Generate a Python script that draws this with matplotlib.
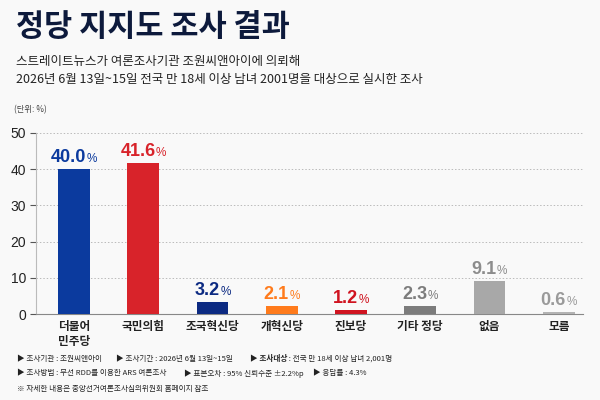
import matplotlib.pyplot as plt
import numpy as np

plt.rcParams['font.family'] = ['Noto Sans CJK KR', 'DejaVu Sans']

parties = ['더불어\n민주당', '국민의힘', '조국혁신당', '개혁신당', '진보당', '기타 정당', '없음', '모름']
support = [40.0, 41.6, 3.2, 2.1, 1.2, 2.3, 9.1, 0.6]
bar_colors = ['#0b3a9e', '#d8232a', '#0c2a82', '#ff7b1c', '#d01420', '#7c7c7c', '#a8a8a8', '#b3b3b3']
label_colors = ['#0b3a9e', '#d8232a', '#0c2a82', '#ff7b1c', '#d01420', '#7c7c7c', '#8c8c8c', '#9a9a9a']
yticks = [0, 10, 20, 30, 40, 50]

title = '정당 지지도 조사 결과'
subtitle = ['스트레이트뉴스가 여론조사기관 조원씨앤아이에 의뢰해',
            '2026년 6월 13일~15일 전국 만 18세 이상 남녀 2001명을 대상으로 실시한 조사']
footer = [
    [('▶ 조사기관 : 조원씨앤아이', 'normal'), ('▶ 조사기간 : 2026년 6월 13일~15일', 'normal'),
     ('▶ 조사대상 : 전국 만 18세 이상 남녀 2,001명', 'bold')],
    [('▶ 조사방법 : 무선 RDD를 이용한 ARS 여론조사', 'normal'), ('▶ 표본오차 : 95% 신뢰수준 ±2.2%p', 'normal'),
     ('▶ 응답률 : 4.3%', 'normal')],
]
footer_x = [[17, 116, 250], [17, 184, 313]]
note = '※ 자세한 내용은 중앙선거여론조사심의위원회 홈페이지 참조'

bg = '#f9f9f9'
fig = plt.figure(figsize=(6, 4), dpi=100, facecolor=bg)
W, H = 600, 400
ax = fig.add_axes([36 / W, 1 - 314 / H, (583 - 36) / W, (314 - 133) / H], facecolor=bg)

x = np.arange(len(parties))
ax.bar(x, support, width=0.46, color=bar_colors, zorder=3)

ax.set_xlim(-0.55, 7.35)
ax.set_ylim(0, 50)
ax.set_yticks(yticks)
ax.set_xticks(x)
ax.set_xticklabels(parties, fontsize=8.4, fontweight='bold', color='#222222', linespacing=1.25)
ax.tick_params(axis='x', length=0, pad=4)
ax.tick_params(axis='y', length=4, color='#555555', labelsize=10, labelcolor='#222222', pad=3)
for t in ax.get_yticklabels():
    t.set_family(['Liberation Sans', 'DejaVu Sans'])
ax.yaxis.grid(True, linestyle=(0, (1.5, 2)), color='#bbbbbb', linewidth=0.7, zorder=0)
for s in ['top', 'right']:
    ax.spines[s].set_visible(False)
ax.spines['left'].set_color('#bbbbbb')
ax.spines['bottom'].set_color('#888888')

# value labels: bold number + small %, centred together over each bar
fig.canvas.draw()
rend = fig.canvas.get_renderer()
for xi, v, c in zip(x, support, label_colors):
    num = ax.annotate(f'{v:.1f}', (xi, v), xytext=(0, 4), textcoords='offset points',
                      ha='left', va='baseline', fontsize=13, fontweight='bold', color=c,
                      family=['Liberation Sans', 'DejaVu Sans'])
    pct = ax.annotate('%', (xi, v), xytext=(0, 4), textcoords='offset points',
                      ha='left', va='baseline', fontsize=8.5, color=c,
                      family=['Liberation Sans', 'DejaVu Sans'])
    wn = num.get_window_extent(rend).width * 72 / fig.dpi
    wp = pct.get_window_extent(rend).width * 72 / fig.dpi
    gap = 0.3
    total = wn + wp + gap
    num.set_position((-total / 2, 5))
    pct.set_position((-total / 2 + wn + gap, 5))

fig.text(16 / W, 1 - 27 / H, title, fontsize=22, fontweight='bold', color='#0d1a3c', va='center')
fig.text(16 / W, 1 - 61 / H, subtitle[0], fontsize=9, color='#222222', va='center')
fig.text(16 / W, 1 - 80 / H, subtitle[1], fontsize=9, color='#222222', va='center')
fig.text(14 / W, 1 - 110 / H, '(단위: %)', fontsize=6, color='#444444', va='center')

fs = 5.5
for row, (items, xs) in enumerate(zip(footer, footer_x)):
    y = 1 - (358.5 + row * 15) / H
    for (txt, w), px in zip(items, xs):
        if w == 'bold':
            head, rest = txt.split(' : ')
            t = fig.text(px / W, y, head, fontsize=fs, fontweight='bold', color='#222222', va='center')
            bb = t.get_window_extent(rend)
            fig.text(bb.x1 / W, y, ' : ' + rest, fontsize=fs, color='#222222', va='center')
        else:
            fig.text(px / W, y, txt, fontsize=fs, color='#222222', va='center')
fig.text(17 / W, 1 - 389 / H, note, fontsize=fs, color='#222222', va='center')

fig.savefig('out.png', dpi=100, facecolor=bg)
